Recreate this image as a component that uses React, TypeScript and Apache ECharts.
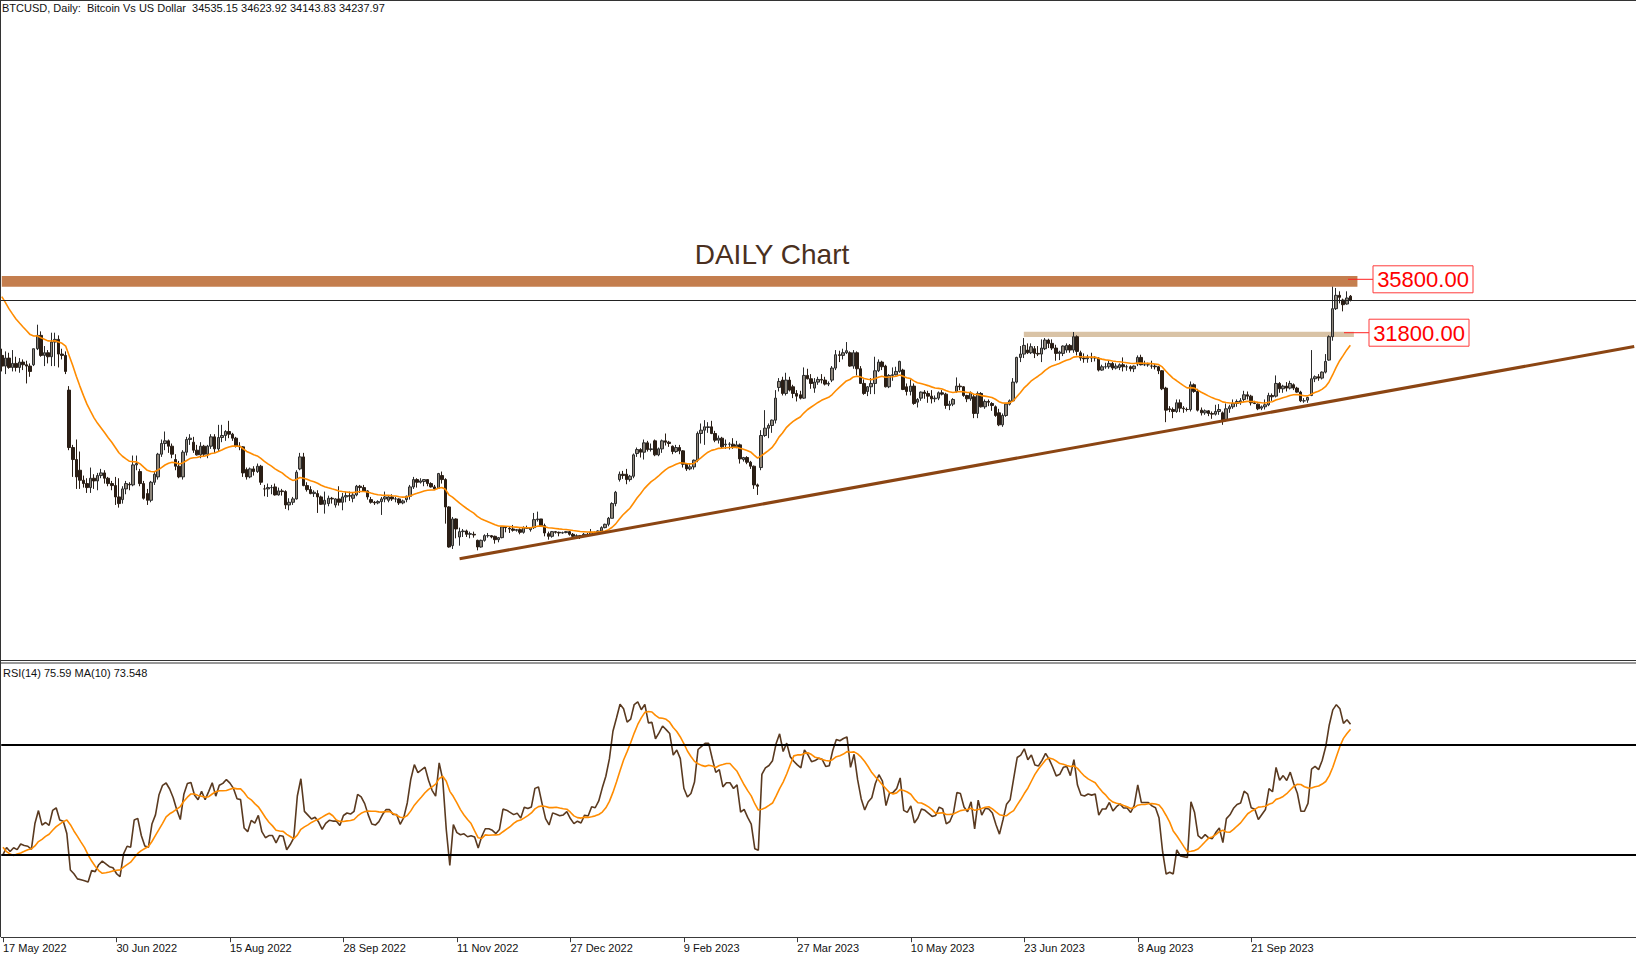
import React, { useEffect, useRef } from "react";
import * as echarts from "echarts";

// ---------------- data ----------------
const titleText = "BTCUSD, Daily:  Bitcoin Vs US Dollar  34535.15 34623.92 34143.83 34237.97";
const rsiTitle = "RSI(14) 75.59 MA(10) 73.548";
const chartCaption = "DAILY Chart";
const tickLabels = ["17 May 2022", "30 Jun 2022", "15 Aug 2022", "28 Sep 2022", "11 Nov 2022", "27 Dec 2022", "9 Feb 2023", "27 Mar 2023", "10 May 2023", "23 Jun 2023", "8 Aug 2023", "21 Sep 2023"];
const barsPerLabel = 32;
const resistanceLevel = 35800;
const supportLevel = 31800;
const resistanceBand = [36050, 35250];
const supportBand = [31880, 31480];
const lastClose = 34237.97;
const trendLine = [[129, 14870], [460, 30760]];
const rsiLevels = [70, 30];

// weekday closes before the first visible bar (indicator warm-up)
const priorCloses = [41000, 42400, 42900, 44000, 44300, 47100, 47400, 47100, 45500, 46300, 46600, 45500, 43200, 43400, 42300, 39500, 40100, 41100, 39900, 40500, 40800, 41500, 41400, 40500, 39700, 40400, 38100, 39200, 39700, 38600, 38500, 37700, 39700, 36600, 36000, 30100, 31000, 29100, 28900, 29300, 29900];

// [open, high, low, close]
const bars = [
  [30100,30600,28900,29300],[29300,30400,28700,29900],[29900,30300,29100,29200],[29200,30500,28900,29500],[29500,30000,28900,29200],
  [29200,29900,28800,29600],[29600,29800,29000,29400],[29400,29700,28000,29300],[29300,29500,28500,28900],[29400,30600,29300,30600],
  [30600,32400,30500,31600],[31600,31900,30000,30100],[30100,30800,29300,30300],[30300,30500,29500,30000],[30000,31800,29300,31100],
  [31100,31800,29300,31300],[31300,31600,29200,30200],[30200,30600,29800,30100],[30100,30400,28700,28900],[27500,27800,23000,23200],
  [23200,23400,21000,22300],[22300,23800,20100,21000],[21500,22900,20100,20750],[20750,21100,20200,20500],[20500,20900,19800,20200],
  [20200,21700,19800,20900],[20900,21200,20100,20700],[20700,21300,20000,21100],[21100,21600,20900,21300],[21300,21500,20500,20900],
  [20900,21000,20300,20500],[20500,20700,20000,20350],[20350,21000,18900,19500],[19500,20900,18700,19000],[19300,20300,19000,20100],
  [20100,20700,19700,20500],[20450,20600,20000,20400],[20400,22600,20300,21900],[21900,22600,21500,22000],[21400,21600,20300,20500],
  [20500,20700,19300,19400],[19750,20100,18900,19250],[19250,20700,19100,20600],[20600,21400,20400,21200],[21000,22800,20800,22700],
  [22700,23800,22500,23500],[23500,24400,23000,23700],[23700,23800,22800,23300],[23300,23500,22400,22700],[22300,22700,21500,21800],
  [21800,22200,20900,21000],[21000,23000,20800,22850],[22850,24000,22600,23800],[23800,24200,23400,23900],[23600,24000,22800,23000],
  [23000,23400,22600,22650],[22650,23600,22400,23300],[23300,23400,22500,22700],[22700,23400,22400,23300],[23300,24200,23100,24000],
  [24000,24200,22800,23100],[23100,24900,22900,23950],[23950,24900,23600,24100],[24100,24500,23700,24400],[24400,25200,23900,24200],
  [24200,24300,23700,23900],[23900,24000,23200,23300],[23300,23600,23000,23250],[23250,23300,21000,21300],[21550,21700,20800,21000],
  [21000,21700,20900,21600],[21600,21800,21100,21400],[21400,22000,21300,21800],[21800,21900,20400,20600],[20100,20400,19550,20100],
  [20100,20500,19500,20200],[20200,20400,19700,20200],[20250,20500,19600,19650],[19650,20200,19600,19950],[19950,20100,19600,19900],
  [19900,20000,18600,18900],[18900,19400,18500,19100],[19100,19500,18900,19350],[19350,21500,19300,21350],[21600,22800,21500,22500],
  [22500,22800,20300,20350],[20350,20600,19900,20050],[20050,20300,19700,19750],[19750,20000,19500,19850],[19750,20000,18300,19500],
  [19500,19600,18900,18950],[18950,19900,18250,19250],[19000,19600,18800,19400],[19400,19500,19000,19350],[18900,19400,18700,19350],
  [19350,20300,18850,19100],[19100,19800,18500,19500],[19500,19900,19100,19600],[19600,19900,19200,19550],[19400,19800,19100,19650],
  [19650,20400,19550,20300],[20300,20400,19800,20200],[20200,20400,19900,19950],[19950,20000,19300,19500],[19300,19500,19000,19100],
  [19100,19200,18900,19050],[19050,19250,18950,19150],[19150,19500,18150,19350],[19350,19900,19100,19500],[19250,19600,19100,19500],
  [19500,19700,19200,19350],[19350,19500,19100,19350],[19350,19400,18900,19050],[19050,19300,18950,19200],[19300,19600,19100,19550],
  [19550,20400,19300,20250],[20250,21000,20100,20800],[20800,20900,20200,20600],[20600,20900,20500,20700],[20650,20800,20300,20800],
  [20800,20800,20300,20500],[20500,20600,20200,20250],[20250,20400,20050,20100],[20150,21300,20100,21250],[21100,21400,20500,20800],
  [20800,20900,17500,18750],[18750,18800,15700,15750],[15850,18000,15600,17850],[17850,17900,16400,17100],[16500,17200,15850,16900],
  [16900,17100,16500,16950],[16950,17050,16500,16700],[16700,16900,16400,16750],[16700,16900,16450,16650],[16250,16300,15500,15750],
  [15750,16300,15700,16250],[16250,16700,16150,16600],[16600,16800,16450,16600],[16600,16650,16400,16500],[16550,16600,16000,16300],
  [16300,16500,16100,16450],[16450,17300,16400,17250],[17250,17300,16850,17200],[17150,17300,16800,17100],[17100,17400,16900,17000],
  [17000,17100,16900,17050],[17050,17150,16700,16850],[16850,17300,16750,17200],[17200,17350,17100,17150],[17050,17250,16900,17200],
  [17200,18300,17100,17800],[17800,18400,17650,17850],[17850,17850,17300,17350],[17350,17500,16550,16800],[16750,16900,16300,16550],
  [16550,16950,16450,16900],[16900,16950,16750,16850],[16850,16900,16550,16800],[16800,16900,16750,16820],[16830,16950,16780,16900],
  [16900,16950,16600,16700],[16700,16800,16500,16550],[16550,16700,16500,16600],[16600,16650,16350,16550],[16550,16800,16500,16700],
  [16700,16800,16600,16680],[16680,17100,16650,16850],[16850,16900,16750,16830],[16830,17000,16700,16950],[16950,17300,16900,17200],
  [17200,17500,17150,17450],[17450,18000,17300,17900],[17900,19100,17900,19000],[19000,19950,18800,19850],[20800,21400,20650,21200],
  [21200,21450,20850,21100],[21200,21600,20450,20800],[20800,21150,20650,21050],[21050,22750,20900,22650],[22750,23200,22500,23050],
  [23050,23150,22450,22850],[22850,23800,22300,23550],[23550,23700,22900,23050],[23050,23500,22900,23100],[23700,23800,22550,22650],
  [22650,23200,22550,23100],[23100,23800,22800,23700],[23700,24250,23350,23600],[23600,23700,23250,23500],[23300,23350,22700,22900],
  [22900,23400,22800,23200],[23200,23400,22700,22950],[22950,23000,21700,21950],[21950,22000,21450,21600],[21600,22000,21500,21750],
  [21750,22300,21550,22250],[22250,24400,22100,24250],[24250,25000,23500,24500],[24500,25250,23400,24750],[24700,25100,24300,24750],
  [24750,25200,24200,24250],[24250,24450,23600,23750],[23750,24100,23500,23900],[23900,24000,23100,23250],[23400,23800,23100,23450],
  [23450,23600,23050,23450],[23450,23900,23100,23250],[23250,23700,23150,23400],[23400,23500,22000,22350],[22300,22500,22150,22450],
  [22450,22550,21950,22100],[22100,22200,21600,21800],[21800,21850,20100,20400],[20400,20500,19650,20300],[21700,24500,21500,24100],
  [24100,26000,24000,24650],[24650,25000,23900,24850],[24850,25300,24300,25250],[25250,27500,25000,26900],[27700,28400,27400,28150],
  [28250,28500,27100,27250],[27250,28800,27100,28250],[28250,28500,27400,27500],[27750,27900,26900,27250],[27250,27500,26650,27050],
  [27150,27450,26800,26900],[26900,29200,26850,28600],[28600,29100,28300,28350],[28350,28700,27600,28000],[27650,28400,27300,28100],
  [28100,28500,27900,28300],[28300,28700,28000,28250],[28250,28500,27850,27950],[27950,28150,27800,28000],[28250,29300,28100,29150],
  [29150,30500,29000,30150],[30150,30450,29600,30100],[30100,30600,29800,30300],[30300,31100,30200,30450],[30300,30400,29250,29300],
  [29300,30500,29100,30300],[30300,30400,28600,29100],[29100,29300,28000,28000],[28000,28300,27150,27250],[27400,27800,27050,27750],
  [27750,28400,27200,28000],[28000,30000,27200,28950],[28950,29800,28850,29600],[29600,29700,29000,29250],[29300,29400,27700,27750],
  [27750,28700,27650,28600],[28600,29200,28200,28650],[28650,29250,28600,28900],[28900,29700,28800,29650],[29000,29100,27500,27550],
  [27750,28000,27100,27400],[27400,28300,27100,27800],[27800,28000,26400,26500],[26600,26900,26200,26800],[26900,27400,26700,27350],
  [27350,27500,26850,27250],[27250,27450,26550,27050],[27050,27500,26500,26850],[26850,27100,26600,26900],[26900,27400,26750,27300],
  [27300,27500,27100,27200],[27200,27300,26100,26350],[26350,26700,26000,26450],[26450,26900,26300,26800],[27400,28450,27300,27800],
  [27800,28000,27500,27750],[27750,27800,27000,27100],[27100,27150,26600,26850],[26850,27400,26700,27300],[27000,27200,25400,25750],
  [25750,27400,25400,27250],[27250,27350,26200,26250],[26250,26800,26100,26650],[26650,26800,26300,26600],[26500,26600,25950,26350],
  [26250,26350,25500,25600],[25800,26100,24800,24900],[24900,25750,24750,25600],[25600,26500,25500,26450],[26450,26800,26350,26700],
  [26700,28400,26650,28100],[28100,30000,28000,29950],[29950,30800,29600,30200],[30200,31400,29900,30850],[30500,31000,30200,30300],
  [30300,31000,30200,30750],[30600,30800,29900,30250],[30250,30800,30050,30200],[30200,31300,29600,30650],[30600,31400,30500,31250],
  [31250,31350,30650,31000],[31000,31300,30500,30650],[30650,30900,29700,30250],[30250,30450,29750,30350],[30250,30850,30050,30800],
  [30500,31000,30300,30850],[30850,30950,30300,30500],[30500,31850,30300,31500],[31500,31600,30100,30400],[30300,30450,29700,29900],
  [29900,30250,29550,29850],[29850,30150,29550,29950],[29950,30300,29600,29900],[29900,30050,29650,29950],[29900,29950,28900,29000],
  [29000,29400,28950,29250],[29250,29550,29100,29250],[29250,29700,29100,29500],[29500,29600,29000,29150],[29150,29500,29050,29300],
  [29200,29500,29000,29400],[29400,29950,28900,29250],[29250,29400,28950,29250],[29250,29350,28900,29100],[29100,29350,28850,29300],
  [29450,30100,29300,29950],[29950,30150,29350,29400],[29400,29700,29300,29400],[29400,29550,29250,29400],[29300,29700,29100,29300],
  [29300,29450,29050,29250],[29250,29300,28700,28950],[28950,29000,27500,27600],[27650,27750,25100,26000],[26100,26300,25850,26050],
  [26050,26200,25400,25900],[25900,26800,25800,26550],[26550,26800,25850,26150],[26150,26300,25800,26100],[26050,26200,25900,26050],
  [26050,28150,25900,27900],[27900,28000,27300,27400],[27400,27600,25900,26000],[26000,26200,25600,25800],[25800,26050,25650,25950],
  [25950,26000,25550,25750],[25750,25900,25350,25700],[25700,26400,25600,25900],[25900,26450,25650,26050],[25800,25900,24900,25250],
  [25250,26500,25150,26100],[26100,26400,25800,26250],[26250,26800,26100,26500],[26500,26800,26250,26650],[26600,26900,26400,26700],
  [26800,27450,26600,27150],[27150,27400,26800,27050],[27050,27150,26350,26550],[26550,26700,26450,26500],[26450,26500,26000,26100],
  [26150,26350,26000,26250],[26250,26800,26050,26400],[26400,27300,26300,27100],[27100,27250,26700,27000],[27050,28600,26950,28000],
  [28000,28100,27300,27600],[27600,27900,27300,27800],[27800,28100,27400,27650],[27650,28200,27550,28000],[27900,28000,27500,27650],
  [27650,27750,27300,27350],[27350,27450,26600,26700],[26700,26900,26550,26700],[26750,27000,26550,26950],[27100,30500,27050,28350],
  [28350,28600,28100,28500],[28500,28700,28200,28400],[28400,28900,28300,28850],[28850,30200,28750,29650],[29750,31600,29700,31500],
  [31500,35250,31200,33600],[33600,35150,33500,34600],[34600,34900,34000,34450],[34250,34350,33400,33900],[33950,34900,33900,34400],
  [34535.15,34623.92,34143.83,34237.97],
];

// ---------------- layout ----------------
const W = 1636;
const H = 957;
const STEP = 3.553;
const SLOTS = 461;
const GRID_LEFT = -STEP / 2;
const MAIN_TOP = 1;
const MAIN_H = 659;
const PRICE_MAX = 56645;
const PRICE_MIN = 7286;
const RSI_TOP = 662.2;
const RSI_H = 275;
const FONT = "Liberation Sans, Arial, sans-serif";

function emaOf(values: number[], period: number) {
  const k = 2 / (period + 1);
  let e = values[0];
  return values.map((v, i) => (i === 0 ? e : (e = e + k * (v - e))));
}

function rsiOf(values: number[], period: number) {
  const out: (number | null)[] = values.map(() => null);
  let g = 0, l = 0;
  for (let i = 1; i <= period; i++) {
    const d = values[i] - values[i - 1];
    if (d > 0) g += d; else l -= d;
  }
  g /= period; l /= period;
  out[period] = l === 0 ? 100 : 100 - 100 / (1 + g / l);
  for (let i = period + 1; i < values.length; i++) {
    const d = values[i] - values[i - 1];
    g = (g * (period - 1) + Math.max(d, 0)) / period;
    l = (l * (period - 1) + Math.max(-d, 0)) / period;
    out[i] = l === 0 ? 100 : 100 - 100 / (1 + g / l);
  }
  return out;
}

function smaOf(values: (number | null)[], period: number) {
  return values.map((_, i) => {
    if (i < period - 1) return null;
    let s = 0;
    for (let j = i - period + 1; j <= i; j++) {
      if (values[j] == null) return null;
      s += values[j] as number;
    }
    return s / period;
  });
}

export default function App() {
  const ref = useRef<HTMLDivElement>(null);

  useEffect(() => {
    if (!ref.current) return;
    const chart = echarts.init(ref.current, undefined, { renderer: "svg" });

    const closes = bars.map((b) => b[3]);
    const all = [...priorCloses, ...closes];
    const off = priorCloses.length;
    const ema20 = emaOf(all, 20).slice(off);
    const rsiAll = rsiOf(all, 14);
    const rsiMaAll = smaOf(rsiAll, 10);
    const rsi = rsiAll.slice(off);
    const rsiMa = rsiMaAll.slice(off);

    const cats = Array.from({ length: SLOTS }, (_, i) => String(i));
    const showTick = (i: number) => i % barsPerLabel === 0 && i / barsPerLabel < tickLabels.length;

    const option: any = {
      animation: false,
      backgroundColor: "#ffffff",
      grid: [
        { left: GRID_LEFT, width: SLOTS * STEP, top: MAIN_TOP, height: MAIN_H, containLabel: false },
        { left: GRID_LEFT, width: SLOTS * STEP, top: RSI_TOP, height: RSI_H, containLabel: false },
      ],
      xAxis: [
        { type: "category", gridIndex: 0, data: cats, show: false, boundaryGap: true },
        {
          type: "category",
          gridIndex: 1,
          data: cats,
          boundaryGap: true,
          axisLine: { show: true, lineStyle: { color: "#3a3a3a", width: 1 } },
          axisTick: { show: true, alignWithLabel: true, interval: (i: number) => showTick(i), length: 5, lineStyle: { color: "#3a3a3a" } },
          axisLabel: {
            interval: (i: number) => showTick(i),
            formatter: (v: string) => {
              const i = Number(v);
              return showTick(i) ? tickLabels[i / barsPerLabel] : "";
            },
            align: "left",
            margin: 5,
            fontSize: 11,
            color: "#111",
            fontFamily: FONT,
          },
          splitLine: { show: false },
        },
      ],
      yAxis: [
        { type: "value", gridIndex: 0, min: PRICE_MIN, max: PRICE_MAX, show: false, splitLine: { show: false } },
        { type: "value", gridIndex: 1, min: 0, max: 100, show: false, splitLine: { show: false } },
      ],
      series: [
        {
          type: "candlestick",
          xAxisIndex: 0,
          yAxisIndex: 0,
          barWidth: 3,
          data: bars.map(([o, h, l, c]) => [o, c, l, h]),
          itemStyle: {
            color: "#8d867c",
            color0: "#2a1e15",
            borderColor: "#2b2b2b",
            borderColor0: "#2a1e15",
            borderWidth: 1,
          },
          markArea: {
            silent: true,
            data: [
              [
                { xAxis: 0, yAxis: resistanceBand[0], itemStyle: { color: "#c47e4e", opacity: 1 } },
                { xAxis: 382, yAxis: resistanceBand[1] },
              ],
              [
                { xAxis: 288, yAxis: supportBand[0], itemStyle: { color: "#d9c3a6", opacity: 1 } },
                { xAxis: 381, yAxis: supportBand[1] },
              ],
            ],
          },
          markLine: {
            silent: true,
            symbol: ["none", "none"],
            label: { show: false },
            data: [
              { yAxis: lastClose, lineStyle: { color: "#222222", width: 1, type: "solid" } },
              [
                { coord: trendLine[0], lineStyle: { color: "#8b4513", width: 3, type: "solid" } },
                { coord: trendLine[1] },
              ],
            ],
          },
        },
        {
          type: "line",
          xAxisIndex: 0,
          yAxisIndex: 0,
          data: ema20,
          symbol: "none",
          lineStyle: { color: "#ff8c00", width: 1.6 },
          z: 3,
        },
        {
          type: "line",
          xAxisIndex: 1,
          yAxisIndex: 1,
          data: rsi,
          symbol: "none",
          lineStyle: { color: "#5a3a20", width: 1.6 },
          markLine: {
            silent: true,
            symbol: ["none", "none"],
            label: { show: false },
            lineStyle: { color: "#000000", width: 2, type: "solid" },
            data: rsiLevels.map((v) => ({ yAxis: v })),
          },
        },
        {
          type: "line",
          xAxisIndex: 1,
          yAxisIndex: 1,
          data: rsiMa,
          symbol: "none",
          lineStyle: { color: "#ff8c00", width: 1.6 },
        },
      ],
    };
    chart.setOption(option);

    const yR = chart.convertToPixel({ yAxisIndex: 0 }, resistanceLevel) as number;
    const yS = chart.convertToPixel({ yAxisIndex: 0 }, supportLevel) as number;

    const box = (x: number, y: number, text: string) => [
      {
        type: "rect",
        shape: { x, y: y - 13.5, width: 100, height: 27 },
        style: { fill: "#ffffff", stroke: "#ff3b3b", lineWidth: 1 },
        z: 20,
      },
      {
        type: "text",
        x: x + 50,
        y: y + 0.5,
        style: { text, fill: "#ff0000", fontSize: 22, fontFamily: FONT, align: "center", verticalAlign: "middle" },
        z: 21,
      },
    ];

    chart.setOption({
      graphic: [
        { type: "line", shape: { x1: 0.5, y1: 0, x2: 0.5, y2: 937 }, style: { stroke: "#333", lineWidth: 1 }, z: 10 },
        { type: "line", shape: { x1: 0, y1: 0.5, x2: W, y2: 0.5 }, style: { stroke: "#333", lineWidth: 1 }, z: 10 },
        { type: "line", shape: { x1: 0, y1: 660.5, x2: W, y2: 660.5 }, style: { stroke: "#333", lineWidth: 1 }, z: 10 },
        { type: "line", shape: { x1: 0, y1: 663, x2: W, y2: 663 }, style: { stroke: "#333", lineWidth: 1 }, z: 10 },
        {
          type: "text",
          x: 2,
          y: 8,
          style: { text: titleText, fill: "#111", fontSize: 11, fontFamily: FONT, verticalAlign: "middle" },
          z: 20,
        },
        {
          type: "text",
          x: 3,
          y: 673,
          style: { text: rsiTitle, fill: "#111", fontSize: 11, fontFamily: FONT, verticalAlign: "middle" },
          z: 20,
        },
        {
          type: "text",
          x: 772,
          y: 254,
          style: { text: chartCaption, fill: "#4a3020", fontSize: 28, fontFamily: FONT, align: "center", verticalAlign: "middle" },
          z: 20,
        },
        { type: "line", shape: { x1: 1348, y1: yR, x2: 1373, y2: yR }, style: { stroke: "#ff2020", lineWidth: 1 }, z: 19 },
        { type: "line", shape: { x1: 1344, y1: yS, x2: 1369, y2: yS }, style: { stroke: "#ff2020", lineWidth: 1 }, z: 19 },
        ...box(1373, yR, "35800.00"),
        ...box(1369, yS, "31800.00"),
      ],
    });

    return () => chart.dispose();
  }, []);

  return (
    <div
      ref={ref}
      style={{ position: "fixed", left: 0, top: 0, width: W, height: H, background: "#ffffff" }}
    />
  );
}
